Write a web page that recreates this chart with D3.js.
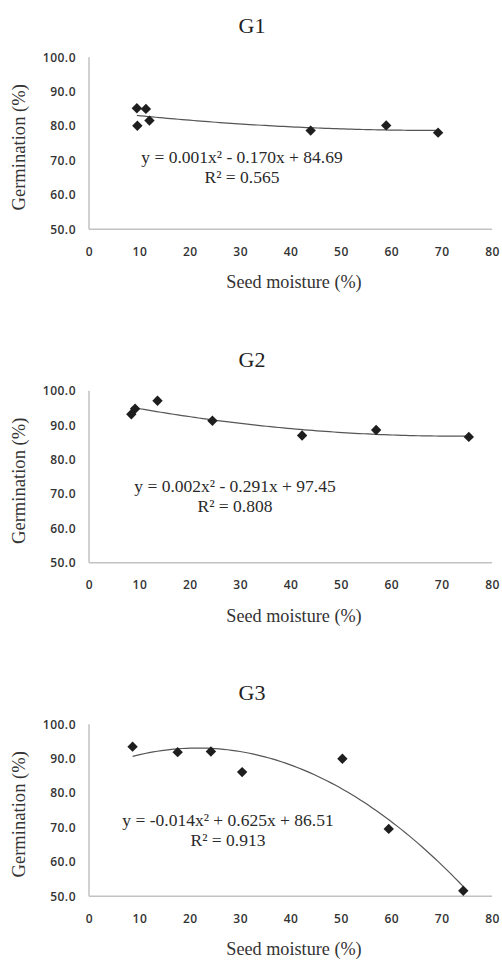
<!DOCTYPE html>
<html>
<head>
<meta charset="utf-8">
<script src="https://cdn.jsdelivr.net/npm/d3@7"></script>
<style>
  html, body { margin: 0; padding: 0; background: #fff; }
  svg { display: block; }
</style>
</head>
<body>
<svg id="chart" width="502" height="960"></svg>
<script>
// ---- data ----
const xTicks = [0, 10, 20, 30, 40, 50, 60, 70, 80]
const yTicks = [50, 60, 70, 80, 90, 100]

const panelNames = ["G1", "G2", "G3"]

const g1Moisture = [9.5, 11.3, 9.6, 12.0, 44.0, 59.0, 69.3]
const g1Germ     = [85.2, 85.0, 80.1, 81.6, 78.7, 80.2, 78.1]

const g2Moisture = [8.4, 9.15, 13.6, 24.5, 42.3, 57.0, 75.4]
const g2Germ     = [93.2, 94.8, 97.1, 91.3, 87.0, 88.6, 86.6]

const g3Moisture = [8.65, 17.6, 24.2, 30.4, 50.3, 59.5, 74.3]
const g3Germ     = [93.5, 91.9, 92.1, 86.1, 90.0, 69.6, 51.6]

const equations = [
  "y = 0.001x\u00B2 - 0.170x + 84.69",
  "y = 0.002x\u00B2 - 0.291x + 97.45",
  "y = -0.014x\u00B2 + 0.625x + 86.51"
]
const rSquared = ["R\u00B2 = 0.565", "R\u00B2 = 0.808", "R\u00B2 = 0.913"]

const panels = [
  { name: panelNames[0], xs: g1Moisture, ys: g1Germ, eq: equations[0], r2: rSquared[0], eqX: 242, eqY: 106 },
  { name: panelNames[1], xs: g2Moisture, ys: g2Germ, eq: equations[1], r2: rSquared[1], eqX: 235, eqY: 101 },
  { name: panelNames[2], xs: g3Moisture, ys: g3Germ, eq: equations[2], r2: rSquared[2], eqX: 228, eqY: 102 },
]

// ---- least squares quadratic (like an Excel poly trendline) ----
function polyfit2(xs, ys) {
  let s = [0, 0, 0, 0, 0], t = [0, 0, 0]
  xs.forEach((x, i) => {
    let p = 1
    for (let k = 0; k < 5; k++) { s[k] += p; if (k < 3) t[k] += p * ys[i]; p *= x }
  })
  const A = [[s[0], s[1], s[2], t[0]], [s[1], s[2], s[3], t[1]], [s[2], s[3], s[4], t[2]]]
  for (let c = 0; c < 3; c++) {
    for (let r = c + 1; r < 3; r++) {
      const f = A[r][c] / A[c][c]
      for (let k = c; k < 4; k++) A[r][k] -= f * A[c][k]
    }
  }
  const b = [0, 0, 0]
  for (let r = 2; r >= 0; r--) {
    let v = A[r][3]
    for (let k = r + 1; k < 3; k++) v -= A[r][k] * b[k]
    b[r] = v / A[r][r]
  }
  return x => b[0] + b[1] * x + b[2] * x * x
}

const svg = d3.select("#chart")
const left = 89, right = 492, plotH = 172
const serif = "'Liberation Serif', 'Times New Roman', serif"
const sans = "'Open Sans', 'DejaVu Sans', sans-serif"

const x = d3.scaleLinear().domain([0, 80]).range([left, right])

panels.forEach((p, i) => {
  const top = 57.3 + i * 333.5
  const bottom = top + plotH
  const y = d3.scaleLinear().domain([50, 100]).range([bottom, top])
  const g = svg.append("g")

  // title
  g.append("text")
    .attr("x", 252).attr("y", top - 24)
    .attr("text-anchor", "middle")
    .attr("font-family", serif).attr("font-size", 22)
    .attr("fill", "#222")
    .text(p.name)

  // axes lines
  g.append("line")
    .attr("x1", left).attr("x2", left).attr("y1", y(100)).attr("y2", bottom)
    .attr("stroke", "#c2c2c2").attr("stroke-width", 1.5)
  g.append("line")
    .attr("x1", left).attr("x2", right).attr("y1", bottom).attr("y2", bottom)
    .attr("stroke", "#c2c2c2").attr("stroke-width", 1.5)

  // y ticks
  const yAxis = g.append("g")
    .attr("transform", `translate(${left},0)`)
    .call(d3.axisLeft(y).tickValues(yTicks).tickSize(0).tickPadding(13).tickFormat(d3.format(".1f")))
  yAxis.select(".domain").remove()
  yAxis.selectAll("text")
    .attr("font-family", sans).attr("font-size", 12).attr("font-weight", 600)
    .attr("letter-spacing", 0.5)
    .attr("fill", "#333")

  // x ticks
  const xAxis = g.append("g")
    .attr("transform", `translate(0,${bottom})`)
    .call(d3.axisBottom(x).tickValues(xTicks).tickSize(0).tickPadding(18).tickFormat(d3.format("d")))
  xAxis.select(".domain").remove()
  xAxis.selectAll("text")
    .attr("font-family", sans).attr("font-size", 12).attr("font-weight", 600)
    .attr("letter-spacing", 0.5)
    .attr("fill", "#333")

  // axis titles
  g.append("text")
    .attr("x", 294).attr("y", bottom + 59)
    .attr("text-anchor", "middle")
    .attr("font-family", serif).attr("font-size", 18.2)
    .attr("fill", "#333")
    .text("Seed moisture (%)")
  g.append("text")
    .attr("transform", `translate(25,${top + plotH / 2 + 4}) rotate(-90)`)
    .attr("text-anchor", "middle")
    .attr("font-family", serif).attr("font-size", 18.6)
    .attr("fill", "#333")
    .text("Germination (%)")

  // trendline
  const fit = polyfit2(p.xs, p.ys)
  const [x0, x1] = d3.extent(p.xs)
  const curve = d3.range(0, 81).map(k => x0 + (x1 - x0) * k / 80)
  g.append("path")
    .datum(curve)
    .attr("fill", "none")
    .attr("stroke", "#555")
    .attr("stroke-width", 1.2)
    .attr("d", d3.line().x(d => x(d)).y(d => y(fit(d))))

  // points
  g.selectAll(".pt")
    .data(p.xs.map((v, k) => [v, p.ys[k]]))
    .join("path")
    .attr("class", "pt")
    .attr("transform", d => `translate(${x(d[0])},${y(d[1])}) rotate(45)`)
    .attr("d", d3.symbol().type(d3.symbolSquare).size(54))
    .attr("fill", "#1e1e1e")

  // equation
  g.append("text")
    .attr("x", p.eqX).attr("y", top + p.eqY)
    .attr("text-anchor", "middle")
    .attr("font-family", serif).attr("font-size", 17.5)
    .attr("fill", "#2a2a2a")
    .text(p.eq)
  g.append("text")
    .attr("x", p.eqX).attr("y", top + p.eqY + 20)
    .attr("text-anchor", "middle")
    .attr("font-family", serif).attr("font-size", 17.5)
    .attr("fill", "#2a2a2a")
    .text(p.r2)
})
</script>
</body>
</html>
